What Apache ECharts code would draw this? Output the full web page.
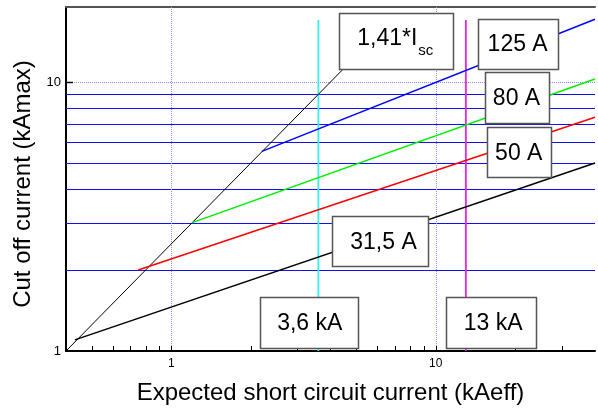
<!DOCTYPE html>
<html><head><meta charset="utf-8">
<script src="https://cdn.jsdelivr.net/npm/echarts@6/dist/echarts.min.js"></script>
<style>html,body{margin:0;padding:0;background:#fff}#c{width:598px;height:410px}</style>
</head><body><div id="c"></div>
<script>
// ---- data ----
const xMin = 0.4, xMax = 40, yMin = 1, yMax = 19;
const xTicks = [0.5, 0.6, 0.7, 0.8, 0.9, 1, 2, 3, 4, 5, 6, 7, 8, 9, 10, 20, 30];
const yTicks = [10];
const yGridSolid = [2, 3, 4, 5, 6, 7, 8, 9];
const yGridDotted = [10];
const xGridDotted = [1, 10];
const peakLine = [[0.4, 1], [5, 12.5]];          // 1,41*Isc
const curve31_5 = [[0.432, 1.10], [40, 5.0]];
const curve50 = [[0.75, 2.0], [40, 7.4]];
const curve80 = [[1.2, 3.0], [40, 10.26]];
const curve125 = [[2.2, 5.52], [40, 17.1]];
const marker3_6 = [[3.6, 1], [3.6, 17]];
const marker13 = [[13, 1], [13, 17]];
const labelTexts = ['1,41*I', '125 A', '80 A', '50 A', '31,5 A', '3,6 kA', '13 kA'];
const labelSubscripts = ['sc', '', '', '', '', '', ''];
const labelAnchors = [[7.09, 14.15], [20.4, 13.9], [20.2, 8.78], [20.6, 5.48], [6.13, 2.56], [3.31, 1.277], [16.2, 1.277]];

// ---- styles ----
const FONT = '"Liberation Sans", Arial, sans-serif';
const boxSizes = [[114, 56], [80, 50], [64, 51], [64, 50], [96, 50], [98, 51], [90, 51]];
const textDx = [0, 0, 0, 0, 4, 1, 2];

const chart = echarts.init(document.getElementById('c'), null, {renderer: 'canvas'});

function crisp(v) { return Math.round(v) + 0.5; }

function hLine(stroke, width, dash) {
  return function (params, api) {
    const cs = params.coordSys;
    const p = api.coord([xMin, api.value(1)]);
    const y = crisp(p[1]);
    return {type: 'line', silent: true,
      shape: {x1: cs.x, y1: y, x2: cs.x + cs.width, y2: y},
      style: {stroke: stroke, lineWidth: width, lineDash: dash || null}};
  };
}
function vLine(stroke, width, dash) {
  return function (params, api) {
    const cs = params.coordSys;
    const p = api.coord([api.value(0), yMin]);
    const x = crisp(p[0]);
    return {type: 'line', silent: true,
      shape: {x1: x, y1: cs.y, x2: x, y2: cs.y + cs.height},
      style: {stroke: stroke, lineWidth: width, lineDash: dash || null}};
  };
}
function xTick(params, api) {
  const p = api.coord([api.value(0), yMin]);
  const x = crisp(p[0]);
  return {type: 'line', silent: true, shape: {x1: x, y1: p[1], x2: x, y2: p[1] - 5},
    style: {stroke: '#000', lineWidth: 1}};
}
function yTick(params, api) {
  const p = api.coord([xMin, api.value(1)]);
  const y = crisp(p[1]);
  return {type: 'line', silent: true, shape: {x1: p[0], y1: y, x2: p[0] + 7, y2: y},
    style: {stroke: '#000', lineWidth: 1.5}};
}
function labelBox(params, api) {
  const i = api.value(2);
  const p = api.coord([api.value(0), api.value(1)]);
  const w = boxSizes[i][0], h = boxSizes[i][1];
  const children = [{type: 'rect', silent: true,
    shape: {x: crisp(p[0] - w / 2), y: crisp(p[1] - h / 2), width: w, height: h},
    style: {fill: '#fff', stroke: '#555', lineWidth: 1.5}}];
  if (labelSubscripts[i]) {
    children.push({type: 'text', silent: true, x: p[0] - 39, y: p[1] - 3,
      style: {text: labelTexts[i], fill: '#000', font: '23px ' + FONT, align: 'left', verticalAlign: 'middle'}});
    children.push({type: 'text', silent: true, x: p[0] + 22, y: p[1] + 9,
      style: {text: labelSubscripts[i], fill: '#000', font: '15px ' + FONT, align: 'left', verticalAlign: 'middle'}});
  } else {
    children.push({type: 'text', silent: true, x: p[0] + textDx[i], y: p[1] + 1,
      style: {text: labelTexts[i], fill: '#000', font: '23px ' + FONT, align: 'center', verticalAlign: 'middle'}});
  }
  return {type: 'group', children: children};
}

function decadeLabel(v) {
  const l = Math.log10(v);
  return Math.abs(l - Math.round(l)) < 1e-6 ? String(Math.round(v)) : '';
}

const lineSeries = (data, color, width, z) => ({
  type: 'line', data: data, symbol: 'none', showSymbol: false, silent: true, z: z || 3,
  lineStyle: {color: color, width: width}, animation: false
});

chart.setOption({
  animation: false,
  backgroundColor: '#fff',
  grid: {left: 66, right: 1, top: 7, bottom: 58, containLabel: false},
  xAxis: [{
    type: 'log', logBase: 10, min: xMin, max: xMax,
    axisLine: {show: true, lineStyle: {color: '#000', width: 2}},
    axisTick: {show: false}, splitLine: {show: false}, minorTick: {show: false},
    axisLabel: {formatter: decadeLabel, fontSize: 12, color: '#000', margin: 7, fontFamily: FONT,
      showMinLabel: true, showMaxLabel: true},
    name: 'Expected short circuit current (kAeff)', nameLocation: 'middle', nameGap: 30,
    nameTextStyle: {fontSize: 24, color: '#000', fontFamily: FONT}
  }, {
    type: 'log', logBase: 10, min: xMin, max: xMax, position: 'top',
    axisLine: {show: true, lineStyle: {color: '#555', width: 2}},
    axisTick: {show: false}, axisLabel: {show: false}, splitLine: {show: false}
  }],
  yAxis: [{
    type: 'log', logBase: 10, min: yMin, max: yMax,
    axisLine: {show: true, lineStyle: {color: '#000', width: 2}},
    axisTick: {show: false}, splitLine: {show: false}, minorTick: {show: false},
    axisLabel: {formatter: decadeLabel, fontSize: 13, color: '#000', margin: 5, fontFamily: FONT},
    name: 'Cut off current (kAmax)', nameLocation: 'middle', nameGap: 30,
    nameTextStyle: {fontSize: 24, color: '#000', fontFamily: FONT, padding: [0, 10, 0, 0]}
  }],
  series: [
    {type: 'custom', renderItem: hLine('#1010f0', 1.2), data: yGridSolid.map(v => [xMin, v]), z: 1, silent: true},
    {type: 'custom', renderItem: hLine('#8c8cff', 1, [1, 1]), data: yGridDotted.map(v => [xMin, v]), z: 1, silent: true},
    {type: 'custom', renderItem: vLine('#8c8cff', 1, [1, 1]), data: xGridDotted.map(v => [v, yMin]), z: 1, silent: true},
    lineSeries(marker3_6, '#33eeee', 1.8, 2),
    lineSeries(marker13, '#ee22ee', 1.8, 2),
    lineSeries(peakLine, '#000', 1, 3),
    lineSeries(curve31_5, '#000', 1.5, 3),
    lineSeries(curve50, '#ff0000', 1.5, 3),
    lineSeries(curve80, '#00ee00', 1.5, 3),
    lineSeries(curve125, '#0000ff', 1.5, 3),
    {type: 'custom', renderItem: xTick, data: xTicks.map(v => [v, yMin]), z: 5, silent: true},
    {type: 'custom', renderItem: yTick, data: yTicks.map(v => [xMin, v]), z: 5, silent: true},
    {type: 'custom', renderItem: labelBox, data: labelAnchors.map((a, i) => [a[0], a[1], i]), z: 10, silent: true,
      encode: {x: 0, y: 1}}
  ]
});
</script>
</body></html>
